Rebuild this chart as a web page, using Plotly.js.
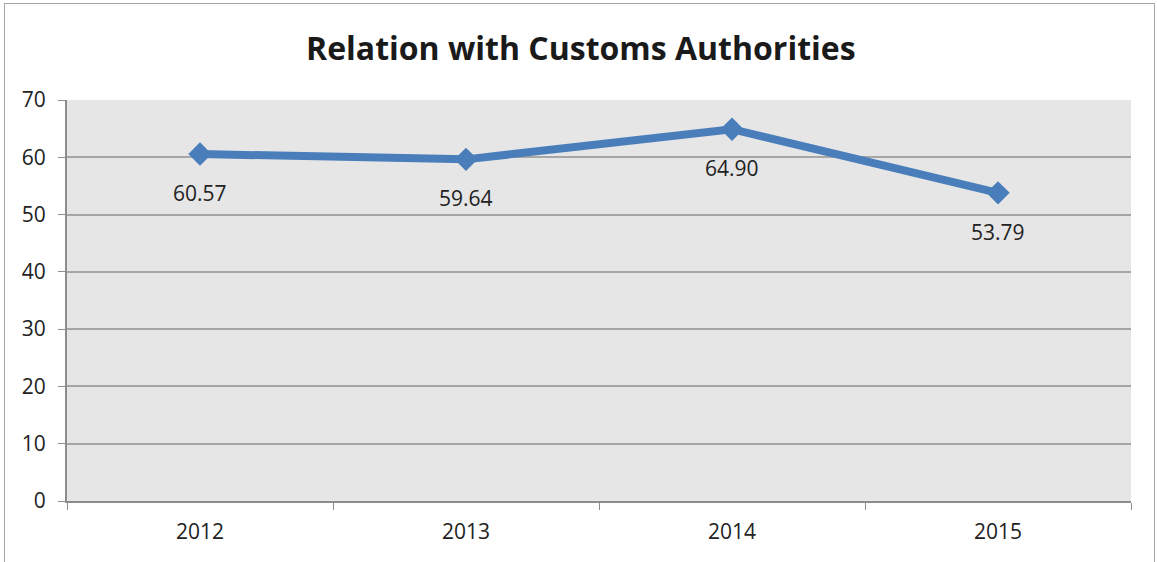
<!DOCTYPE html>
<html><head><meta charset="utf-8">
<script src="https://cdn.plot.ly/plotly-3.0.1.min.js"></script>
<style>
html,body{margin:0;padding:0;background:#fff;}
#frame{position:absolute;left:4px;top:3px;width:1151px;height:570px;border:1px solid #a6a6a6;box-sizing:border-box;}
#chart{position:absolute;left:0;top:0;width:1157px;height:562px;}
</style></head>
<body>
<div id="frame"></div>
<div id="chart"></div>
<script>
const years = ['2012','2013','2014','2015'];
const values = [60.57, 59.64, 64.90, 53.79];
const labels = ['60.57','59.64','64.90','53.79'];

const trace = {
  x: years, y: values, type: 'scatter', mode: 'lines+markers',
  line: {color: '#4a7ebb', width: 8},
  marker: {symbol: 'diamond', size: 18, color: '#4a7ebb'},
  hoverinfo: 'skip'
};
const annotations = years.map((yr, i) => ({
  x: i, y: values[i], xref: 'x', yref: 'y', text: labels[i], showarrow: false,
  yshift: -39, font: {family: 'Open Sans, sans-serif', size: 21, color: '#222'}
}));
const layout = {
  width: 1157, height: 562,
  paper_bgcolor: 'rgba(0,0,0,0)', plot_bgcolor: '#e6e6e6',
  margin: {l: 67, r: 26, t: 100, b: 61},
  showlegend: false,
  title: {text: '<b>Relation with Customs Authorities</b>', x: 0.502, xanchor: 'center', y: 0.914, yanchor: 'middle',
    font: {family: 'Open Sans, sans-serif', size: 32, color: '#1a1a1a'}},
  xaxis: {type: 'category', tickson: 'boundaries', ticks: 'outside', ticklen: 7, tickcolor: '#8c8c8c',
    showline: true, linecolor: '#8c8c8c', linewidth: 2, showgrid: false, zeroline: false,
    tickfont: {family: 'Open Sans, sans-serif', size: 21, color: '#222'}, range: [-0.5, 3.5],
    ticklabelstandoff: 11},
  yaxis: {range: [0, 70], dtick: 10, ticks: 'outside', ticklen: 7, tickcolor: '#8c8c8c',
    showline: true, linecolor: '#8c8c8c', linewidth: 2, gridcolor: '#a6a6a6', gridwidth: 2, zeroline: false,
    tickfont: {family: 'Open Sans, sans-serif', size: 21, color: '#222'}, ticklabelstandoff: 8},
  annotations: annotations
};
Plotly.newPlot('chart', [trace], layout, {displayModeBar: false, staticPlot: true});
</script>
</body></html>
